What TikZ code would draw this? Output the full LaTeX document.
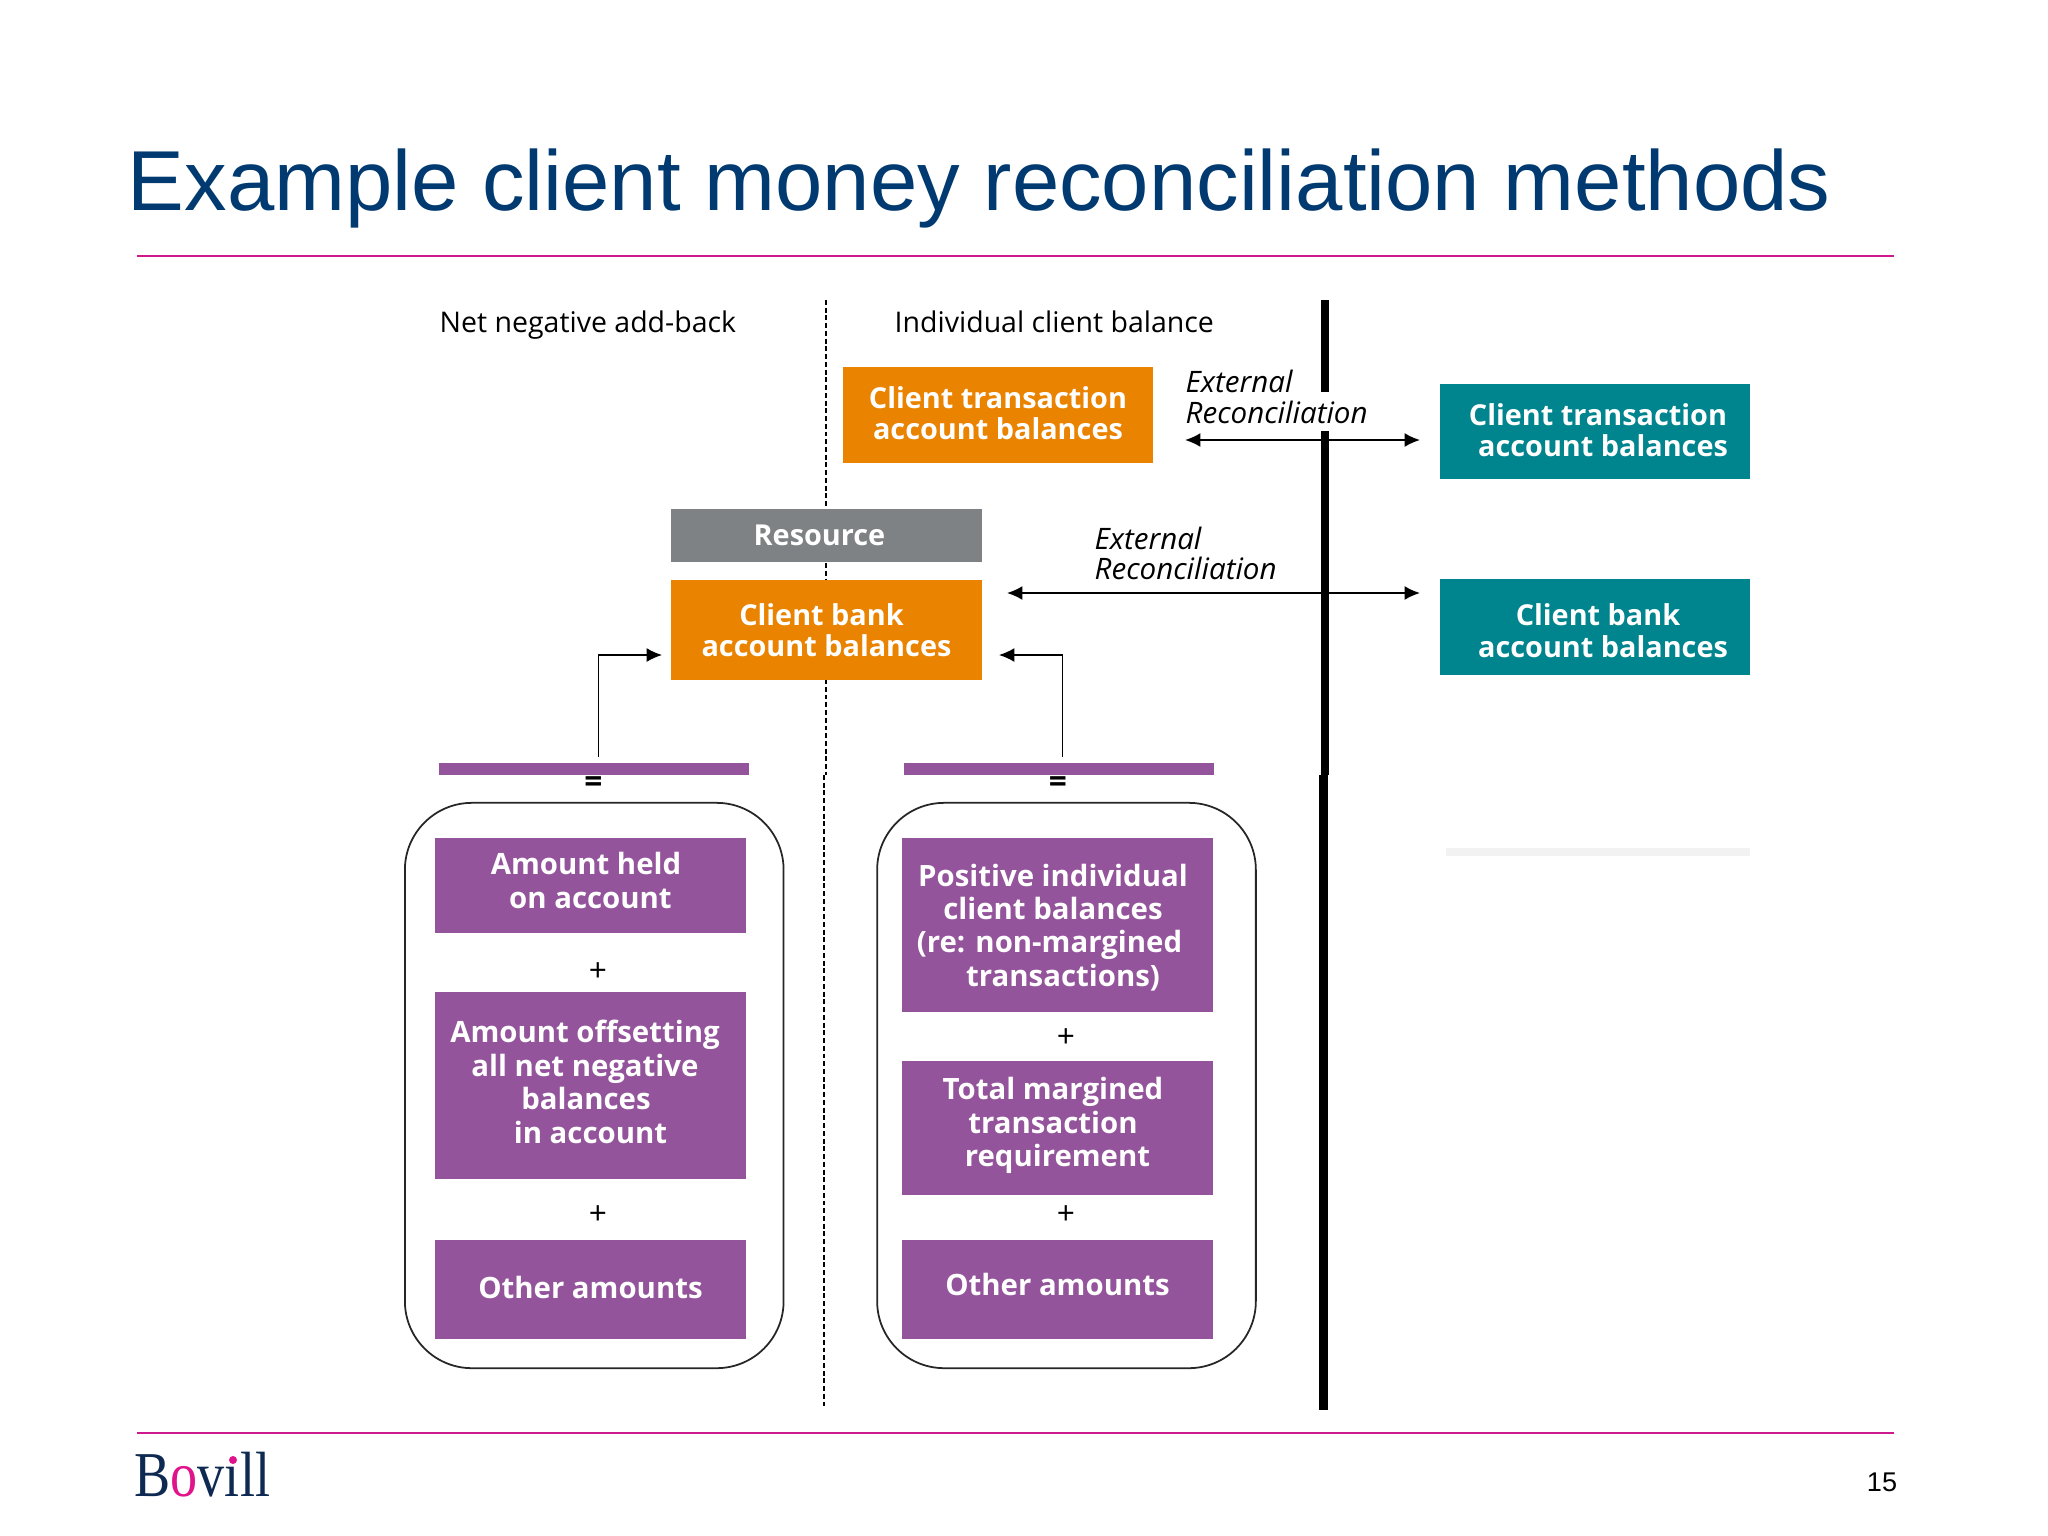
\documentclass[tikz,border=0pt]{standalone}
\usepackage{fontspec}
\usetikzlibrary{arrows.meta}
\setmainfont{Open Sans}
\newfontfamily\titlefont{Liberation Sans}
\newfontfamily\logofont{Liberation Serif}
\definecolor{titleblue}{HTML}{003A70}
\definecolor{rulepink}{HTML}{CC1A8C}
\definecolor{boxorange}{HTML}{E98300}
\definecolor{boxteal}{HTML}{00848E}
\definecolor{boxgrey}{HTML}{7F8284}
\definecolor{boxpurple}{HTML}{93549B}
\definecolor{logonavy}{HTML}{0F2A52}
\definecolor{logopink}{HTML}{E0148A}

\begin{document}
\begin{tikzpicture}[x=0.01cm, y=-0.01cm, >={Latex[length=4.4pt,width=4pt]},
    fillbox/.style={inner sep=0pt, text=white, align=center, minimum width=3.1cm,
        font=\fontsize{8.2}{9}\selectfont\bfseries},
    sumbox/.style={fillbox, fill=boxpurple, font=\fontsize{8.35}{9.5}\selectfont\bfseries},
    headlabel/.style={inner sep=0pt, anchor=base west, font=\fontsize{8.1}{9}\selectfont},
    extlabel/.style={inner sep=0pt, anchor=west, align=left, font=\fontsize{8.4}{8.7}\selectfont\itshape},
    signlabel/.style={inner sep=0pt, font=\fontsize{9}{9}\selectfont},
    framebox/.style={draw, black!85, line width=0.5pt, rounded corners=0.67cm, minimum width=3.785cm, minimum height=5.65cm},
    barbox/.style={fill=boxpurple, inner sep=0pt, minimum width=3.1cm, minimum height=0.12cm}]

    \useasboundingbox (0, 0) rectangle (2048, 1536);

    % Nudge text inside a box: down, or up
    \def\pushdown#1{\rule{0pt}{#1cm}}
    \def\liftup#1{\rule[-#1cm]{0pt}{0pt}}

    % Title and rules
    \node[inner sep=0pt, anchor=base west, text=titleblue, font=\fontsize{24.2}{26}\selectfont\titlefont] (title) at (127, 210) {Example client money reconciliation methods};
    \coordinate (rulea) at (137, 256);
    \coordinate (ruleb) at (1894, 256);
    \coordinate (rulec) at (137, 1433);
    \coordinate (ruled) at (1894, 1433);
    \draw[rulepink, line width=0.75pt] (rulea) -- (ruleb);
    \draw[rulepink, line width=0.75pt] (rulec) -- (ruled);

    % Dashed divider
    \coordinate (dasha) at (826, 300);
    \coordinate (dashb) at (826, 775);
    \coordinate (dashc) at (824, 775);
    \coordinate (dashd) at (824, 1406);
    \draw[dash pattern=on 1.4pt off 0.8pt, line width=0.4pt] (dasha) -- (dashb);
    \draw[dash pattern=on 1.4pt off 0.8pt, line width=0.4pt] (dashc) -- (dashd);

    % Thick divider
    \coordinate (walla) at (1325, 300);
    \coordinate (wallb) at (1325, 392);
    \coordinate (wallc) at (1325, 431);
    \coordinate (walld) at (1325, 775);
    \coordinate (walle) at (1323.5, 775);
    \coordinate (wallf) at (1323.5, 1410);
    \draw[line width=2.5pt] (walla) -- (wallb);
    \draw[line width=2.5pt] (wallc) -- (walld);
    \draw[line width=2.5pt] (walle) -- (wallf);

    % Headings
    \node[headlabel] (netback) at (439, 332) {Net negative add-back};
    \node[headlabel] (indiv) at (894, 332) {Individual client balance};

    % Top boxes
    \node[fillbox, fill=boxorange, minimum height=0.96cm] (ctrans) at (998, 415) {Client transaction\\account balances\liftup{0.04}};
    \node[fillbox, fill=boxteal, minimum height=0.95cm] (extrans) at (1595, 431.5) {\hspace*{0.06cm}Client transaction\\\hspace*{0.16cm}account balances\liftup{0.03}};
    \node[fillbox, fill=boxgrey, minimum height=0.53cm] (resource) at (826.5, 535.5) {\hspace*{-0.14cm}Resource};
    \node[fillbox, fill=boxorange, minimum height=0.99cm] (cbank) at (826.5, 630) {\hspace*{-0.1cm}Client bank\\account balances};
    \node[fillbox, fill=boxteal, minimum height=0.96cm] (exbank) at (1595, 627) {\pushdown{0.29}\hspace*{0.06cm}Client bank\\\hspace*{0.16cm}account balances};

    % Reconciliation labels and arrows
    \node[extlabel] (extone) at (1185, 397) {External\\Reconciliation};
    \node[extlabel] (exttwo) at (1094, 553.5) {External\\Reconciliation};
    \coordinate (arra) at (1185, 440);
    \coordinate (arrb) at (1420, 440);
    \coordinate (arrc) at (1007, 593);
    \coordinate (arrd) at (1420, 593);
    \draw[<->, line width=0.5pt] (arra) -- (arrb);
    \draw[<->, line width=0.5pt] (arrc) -- (arrd);

    % Purple bars and equals signs
    \node[barbox] (barl) at (594, 769) {};
    \node[barbox] (barr) at (1059, 769) {};
    \node[signlabel, font=\fontsize{9}{9}\selectfont\bfseries] (eql) at (593.5, 785) {=};
    \node[signlabel, font=\fontsize{9}{9}\selectfont\bfseries] (eqr) at (1058, 785) {=};

    % Elbow arrows up to client bank
    \coordinate (lfoot) at (598.5, 757);
    \coordinate (lhead) at (662, 655);
    \coordinate (rfoot) at (1062.5, 757);
    \coordinate (rhead) at (999, 655);
    \draw[->, line width=0.4pt] (lfoot) |- (lhead);
    \draw[->, line width=0.4pt] (rfoot) |- (rhead);

    % Rounded frames
    \node[framebox] (framel) at (594.25, 1085.5) {};
    \node[framebox] (framer) at (1066.5, 1085.5) {};

    % Net negative add-back column
    \node[sumbox, minimum height=0.945cm] (held) at (590.5, 885.3) {\hspace*{-0.09cm}Amount held\\on account\liftup{0.1}};
    \node[signlabel] (plusa) at (598, 972) {+};
    \node[sumbox, minimum height=1.865cm] (offset) at (590.5, 1085.25) {\hspace*{-0.11cm}Amount offsetting\\\hspace*{-0.11cm}all net negative\\\hspace*{-0.09cm}balances\\in account\liftup{0.07}};
    \node[signlabel] (plusb) at (598, 1215) {+};
    \node[sumbox, minimum height=0.985cm] (otherl) at (590.5, 1289.75) {Other amounts\liftup{0.05}};

    % Individual client balance column
    \node[sumbox, minimum height=1.74cm] (positive) at (1057.5, 925) {\pushdown{0.27}\hspace*{-0.09cm}Positive individual\\\hspace*{-0.09cm}client balances\\\hspace*{-0.16cm}(re: non-margined\\\hspace*{0.11cm}transactions)};
    \node[signlabel] (plusc) at (1066, 1038) {+};
    \node[sumbox, minimum height=1.34cm] (margin) at (1057.5, 1128) {\hspace*{-0.09cm}Total margined\\\hspace*{-0.09cm}transaction\\requirement\liftup{0.12}};
    \node[signlabel] (plusd) at (1066, 1215) {+};
    \node[sumbox, minimum height=0.985cm] (otherr) at (1057.5, 1289.75) {Other amounts\liftup{0.1}};

    % Faint mark at the right
    \fill[black!5] (1446, 848) rectangle (1750, 856);

    % Footer
    \node[inner sep=0pt, anchor=base west, text=logonavy, font=\fontsize{15.4}{18}\selectfont\logofont] (logo) at (134, 1496) {\scalebox{1}[1.18]{B{\color{logopink}o}v\i ll}};
    \fill[logopink] (233, 1460) circle (4);
    \node[inner sep=0pt, font=\fontsize{7.7}{9}\selectfont\titlefont] (pagenum) at (1882, 1482) {15};

\end{tikzpicture}
\end{document}
